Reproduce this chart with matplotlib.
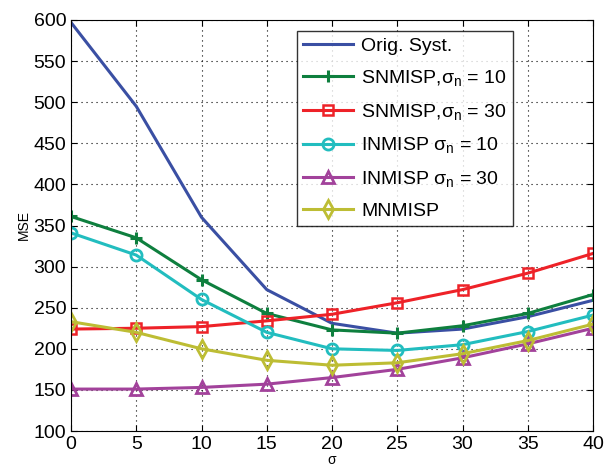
import matplotlib
matplotlib.use("Agg")
from matplotlib import pyplot as plt

sigma = [0, 5, 10, 15, 20, 25, 30, 35, 40]

orig = [597, 495, 360, 272, 231, 219, 224, 239, 259]
snm_10 = [361, 335, 284, 243, 223, 219, 228, 243, 266]
snm_30 = [224, 225, 227, 234, 242, 256, 272, 292, 316]
inm_10 = [341, 314, 260, 220, 200, 198, 205, 221, 241]
inm_30 = [151, 151, 153, 157, 165, 175, 189, 206, 225]
mnm = [233, 220, 200, 186, 180, 183, 194, 210, 230]

labels = [
    "Orig. Syst.",
    r"SNMISP,$\sigma_n$ = 10",
    r"SNMISP,$\sigma_n$ = 30",
    r"INMISP $\sigma_n$ = 10",
    r"INMISP $\sigma_n$ = 30",
    "MNMISP",
]


def main():
    plt.rcParams["font.family"] = ["Liberation Sans", "DejaVu Sans"]
    plt.rcParams["mathtext.fontset"] = "custom"
    plt.rcParams["mathtext.rm"] = "Liberation Sans"
    plt.rcParams["mathtext.it"] = "Liberation Sans"

    fig = plt.figure(figsize=(6.05, 4.72), dpi=100)
    ax = fig.add_axes([71 / 605, 41 / 472, 522 / 605, 411 / 472])

    lw = 2.2
    ax.plot(sigma, orig, color="#3a4fa3", lw=lw, label=labels[0])
    ax.plot(sigma, snm_10, color="#0e7f3e", lw=lw, marker="+", ms=9, mew=2.2,
            label=labels[1])
    ax.plot(sigma, snm_30, color="#ee2228", lw=lw, marker="s", ms=7, mfc="none",
            mew=1.8, label=labels[2])
    ax.plot(sigma, inm_10, color="#22bdbf", lw=lw, marker="o", ms=8, mfc="none",
            mew=2, label=labels[3])
    ax.plot(sigma, inm_30, color="#a2429b", lw=lw, marker="^", ms=9, mfc="none",
            mew=2, label=labels[4])
    ax.plot(sigma, mnm, color="#bdbd34", lw=lw, marker="d", ms=9, mfc="none",
            mew=2, label=labels[5])

    ax.set_xlim(0, 40)
    ax.set_ylim(100, 600)
    ax.set_xticks(range(0, 41, 5))
    ax.set_yticks(range(100, 601, 50))
    ax.tick_params(direction="in", labelsize=14, length=4, top=True, right=True)
    ax.grid(True, linestyle=(0, (1, 3.5)), color="black", lw=0.8)
    ax.set_xlabel(r"$\sigma$", fontsize=10, labelpad=0)
    ax.set_ylabel("MSE", fontsize=10, labelpad=2)

    leg = ax.legend(loc="upper left", bbox_to_anchor=(0.433, 0.973), fontsize=14,
                    frameon=True, fancybox=False, edgecolor="black",
                    handlelength=2.6, borderpad=0.3, labelspacing=0.7,
                    handletextpad=0.4, borderaxespad=0)
    leg.get_frame().set_linewidth(1.0)

    fig.savefig("out.png", dpi=100)


if __name__ == "__main__":
    main()
